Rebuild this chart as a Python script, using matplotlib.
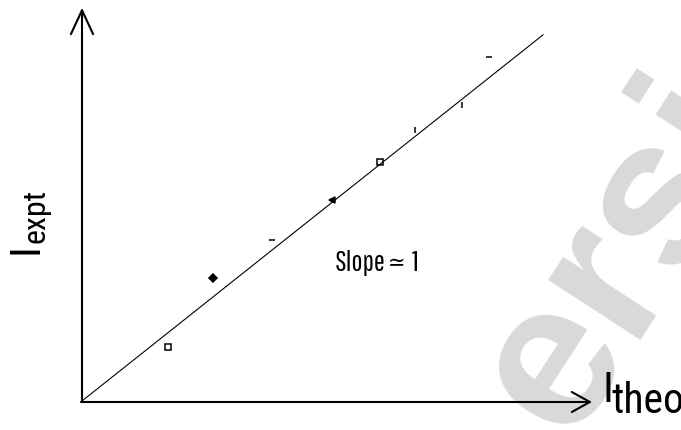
import matplotlib
matplotlib.use('Agg')
from matplotlib import pyplot as plt

# measured values, same units on both axes
theo = [1.69, 2.57, 3.73, 4.90, 5.84, 6.53, 7.45, 7.98]
expt = [1.06, 2.41, 3.16, 3.94, 4.69, 5.31, 5.80, 6.75]
marks = ['s', 'D', '_', '<', 's', '|', '|', '_']
fit_x = [0, 9.04]
fit_y = [0, 7.18]

fig = plt.figure(figsize=(6.81, 4.30), dpi=100)
ax = fig.add_axes([0, 0, 1, 1])
ax.set_xlim(-1.608, 11.745)
ax.set_ylim(-0.569, 7.863)
ax.axis('off')

# watermark, behind everything
ax.text(0.915, 0.405, 'ersi', rotation=57, fontsize=150, fontweight='bold',
        family='Liberation Sans', color='#d9d9d9', ha='center', va='center',
        transform=fig.transFigure, zorder=0)

# axes with open arrow heads
ax.annotate('', xy=(0, 7.71), xytext=(0, -0.02),
            arrowprops=dict(arrowstyle='->, head_length=0.86, head_width=0.4',
                            lw=1.5, color='black', mutation_scale=20,
                            shrinkA=0, shrinkB=0), zorder=3)
ax.annotate('', xy=(10.0, -0.02), xytext=(-0.02, -0.02),
            arrowprops=dict(arrowstyle='->, head_length=0.65, head_width=0.36',
                            lw=1.5, color='black', mutation_scale=20,
                            shrinkA=0, shrinkB=0), zorder=3)

ax.plot(fit_x, fit_y, c='black', lw=0.8)
for x, y, m in zip(theo, expt, marks):
    filled = m not in ('s',)
    ax.plot(x, y, marker=m, ms=4, c='black', mew=1.1,
            mfc='black' if filled else 'none', ls='none')

ax.text(4.96, 2.71, 'Slope', fontsize=21, family='Pathway Gothic One',
        ha='left', va='center', zorder=3)
ax.text(6.0, 2.71, '\u2243', fontsize=15, family='DejaVu Sans',
        ha='left', va='center', zorder=3)
ax.text(6.47, 2.71, '1', fontsize=21, family='Pathway Gothic One',
        ha='left', va='center', zorder=3)

# axis labels
lab = 'Roboto Condensed'
ax.text(-0.87, 2.98, 'I', fontsize=31, family=lab, rotation=90,
        rotation_mode='anchor', ha='center', va='baseline', zorder=3)
ax.text(-0.73, 3.10, 'expt', fontsize=23, family=lab, rotation=90,
        rotation_mode='anchor', ha='left', va='baseline', zorder=3)
ax.text(10.21, -0.02, 'I', fontsize=31, family=lab, ha='left', va='baseline',
        zorder=3)
ax.text(10.38, -0.235, 'theo', fontsize=30, family=lab, ha='left',
        va='baseline', zorder=3)

plt.savefig('out.png', dpi=100)
